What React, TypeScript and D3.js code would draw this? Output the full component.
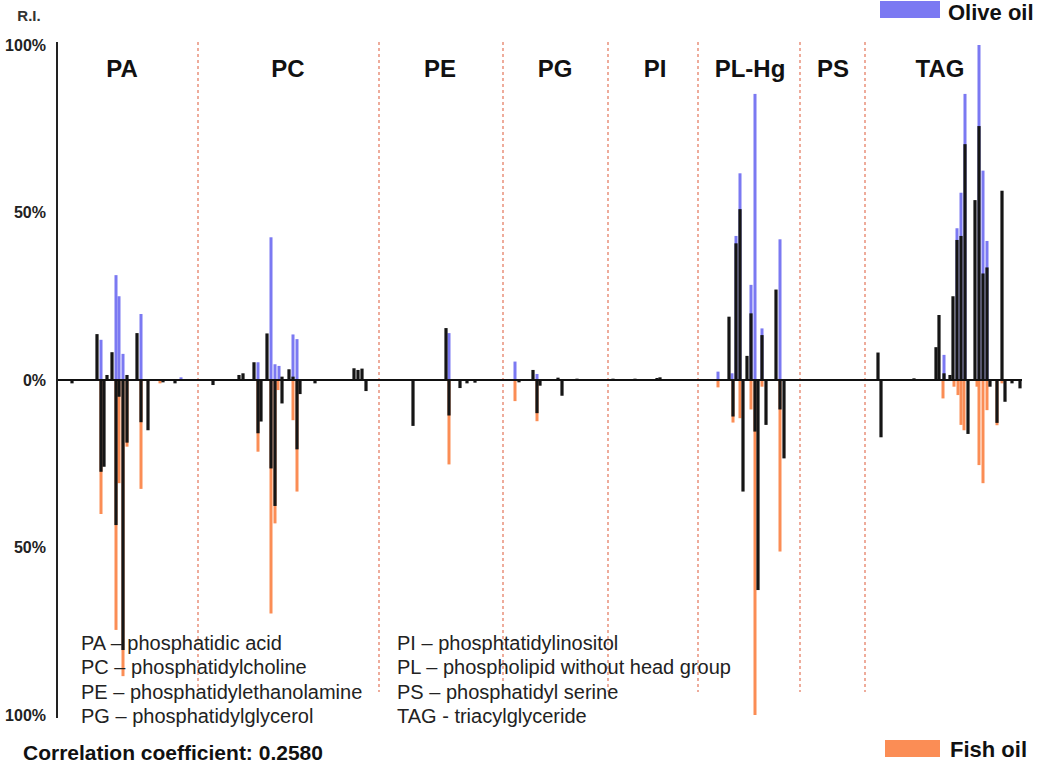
import React from "react";
import * as d3 from "d3";

const W = 1050;
const H = 763;

// Lipid classes (labels along the top) and their centre positions on the m/z index axis
const categories = ["PA", "PC", "PE", "PG", "PI", "PL-Hg", "PS", "TAG"];
const categoryCenters = [65, 231, 383, 498, 598, 693, 776, 883];
// class boundaries (dashed separators) on the same index axis
const boundaries = [141, 322, 446, 551, 641, 743, 808];

const yTicks = [100, 50, 0, -50, -100];

// [position, relative intensity %] — olive oil reference spectrum (up, blue)
const oliveOil: [number, number][] = [
  [44, 12], [59, 31.3], [62, 25], [66, 7.8], [84, 19.7], [124, 0.8],
  [201, 5.3], [214, 42.6], [218, 4.7], [222, 4.2], [236, 13.6], [240, 12.2],
  [392, 14],
  [458, 5.5], [480, 1.8],
  [661, 2.5], [675, 2], [679, 43], [683, 61.7], [694, 28.4], [698, 85.4], [705, 15.4], [723, 42],
  [887, 7.5], [900, 45.3], [904, 55.9], [908, 85.4], [922, 100], [926, 62.5], [930, 41.5],
];

// sample spectrum matched against olive oil (up, black)
const sampleUp: [number, number][] = [
  [40, 13.7], [50, 1.5], [55, 8.3], [70, 1.5], [80, 14],
  [182, 1.5], [186, 2], [197, 5.3], [210, 13.9], [225, 1], [232, 3.2], [236, 1],
  [297, 3.5], [301, 3], [305, 3.4],
  [389, 15.5],
  [476, 3], [501, 0.7], [520, 0.4],
  [556, 0.4], [578, 0.4], [600, 0.6], [603, 0.8],
  [672, 18.9], [679, 40.8], [683, 51], [690, 7.2], [694, 19.9], [705, 13.4], [719, 27],
  [821, 8.2], [857, 0.5],
  [879, 9.8], [882, 19.4], [887, 2], [893, 1.5], [896, 25], [900, 41.8], [904, 43], [908, 70.4],
  [918, 53.7], [922, 75.8], [926, 31.8], [930, 33.6], [945, 56.5],
];

// [position, relative intensity %] — fish oil reference spectrum (down, orange)
const fishOil: [number, number][] = [
  [44, 40], [59, 74.6], [62, 30.8], [66, 88.4], [70, 19.9], [84, 32.5], [103, 1],
  [201, 21.4], [214, 69.7], [218, 42.8], [221, 3], [236, 12], [240, 33.3],
  [392, 25.2],
  [458, 6.3], [480, 12.3],
  [661, 2.2], [676, 12.7], [683, 11.4], [694, 8.8], [698, 100], [705, 2], [723, 51.2],
  [886, 5.5], [897, 2], [901, 4.5], [904, 13.4], [907, 15], [920, 2], [922, 25.4], [926, 30.8],
  [930, 9], [940, 13.5], [945, 1],
];

// sample spectrum matched against fish oil (down, black)
const sampleDown: [number, number][] = [
  [15, 1], [44, 27.4], [47, 25.9], [59, 43.3], [62, 5], [66, 80.6], [70, 18.7], [84, 12.6],
  [91, 15], [106, 0.7], [118, 1],
  [156, 1.5], [201, 15.9], [204, 12.4], [214, 26.4], [218, 37.6], [225, 7], [240, 20.7],
  [243, 4.2], [258, 1], [309, 3.3],
  [356, 13.7], [392, 10.6], [403, 2.4], [410, 1], [418, 0.8],
  [462, 0.7], [480, 9.9], [483, 1.7], [505, 4.7],
  [676, 10.9], [686, 33.3], [698, 15.4], [701, 62.7], [709, 13.4], [723, 8.8], [727, 23.4],
  [824, 17.1], [911, 16.1], [933, 2], [940, 12.8], [948, 6.5], [955, 1], [963, 2.5],
];

const legendLeft = [
  "PA \u2013 phosphatidic acid",
  "PC \u2013 phosphatidylcholine",
  "PE \u2013 phosphatidylethanolamine",
  "PG \u2013 phosphatidylglycerol",
];
const legendRight = [
  "PI \u2013 phosphtatidylinositol",
  "PL \u2013 phospholipid without head group",
  "PS \u2013 phosphatidyl serine",
  "TAG - triacylglyceride",
];

const BLUE = "#7b79f2";
const ORANGE = "#fb8d55";
const BLACK = "#151515";
const FONT = "Arial, 'Liberation Sans', Helvetica, sans-serif";

export default function App() {
  const x = d3.scaleLinear().domain([0, 965]).range([57, 1022]);
  const y = d3.scaleLinear().domain([-100, 100]).range([715, 45]);
  const y0 = y(0);

  const up = (data: [number, number][], color: string, w: number, key: string) =>
    data.map(([p, v], i) => (
      <rect key={key + i} x={x(p) - w / 2} y={y(v)} width={w} height={y0 - y(v)} fill={color} />
    ));
  const down = (data: [number, number][], color: string, w: number, key: string) =>
    data.map(([p, v], i) => (
      <rect key={key + i} x={x(p) - w / 2} y={y0} width={w} height={y(-v) - y0} fill={color} />
    ));

  return (
    <svg width={W} height={H} style={{ position: "absolute", left: 0, top: 0, background: "#fff" }}>
      <rect width={W} height={H} fill="#fff" />
      {/* class separators */}
      {boundaries.map((b, i) => (
        <line key={"b" + i} x1={x(b)} x2={x(b)} y1={42} y2={692} stroke="#e0684a" strokeWidth={1.1} strokeDasharray="3,3" />
      ))}
      {/* class labels */}
      {categories.map((c, i) => (
        <text key={"c" + i} x={x(categoryCenters[i])} y={77} textAnchor="middle" fontFamily={FONT} fontWeight="bold" fontSize={24} fill="#111">
          {c}
        </text>
      ))}
      {/* bars */}
      {up(oliveOil, BLUE, 3, "o")}
      {down(fishOil, ORANGE, 3, "f")}
      {up(sampleUp, BLACK, 3.2, "su")}
      {down(sampleDown, BLACK, 3.2, "sd")}
      {/* zero line */}
      <line x1={x(0)} x2={x(965)} y1={y0} y2={y0} stroke="#111" strokeWidth={2} />
      {/* y axis */}
      <line x1={57} x2={57} y1={42} y2={718} stroke="#222" strokeWidth={2} />
      {yTicks.map((t, i) => (
        <text key={"t" + i} x={46} y={y(t)} dy="0.35em" textAnchor="end" fontFamily={FONT} fontWeight="bold" fontSize={16} fill="#222">
          {Math.abs(t) + "%"}
        </text>
      ))}
      <text x={29} y={21} textAnchor="middle" fontFamily={FONT} fontWeight="bold" fontSize={15} fill="#333">R.I.</text>
      {/* abbreviation legend */}
      {legendLeft.map((s, i) => (
        <text key={"ll" + i} x={81} y={650 + i * 24.3} fontFamily={FONT} fontSize={20} fill="#222">{s}</text>
      ))}
      {legendRight.map((s, i) => (
        <text key={"lr" + i} x={397} y={650 + i * 24.3} fontFamily={FONT} fontSize={20} fill="#222">{s}</text>
      ))}
      <text x={23} y={760} fontFamily={FONT} fontWeight="bold" fontSize={21} fill="#111">Correlation coefficient: 0.2580</text>
      {/* series legend */}
      <rect x={880} y={1} width={60} height={17} fill={BLUE} />
      <text x={948} y={20} fontFamily={FONT} fontWeight="bold" fontSize={22} fill="#111">Olive oil</text>
      <rect x={885} y={740} width={55} height={17} fill={ORANGE} />
      <text x={950} y={757} fontFamily={FONT} fontWeight="bold" fontSize={22} fill="#111">Fish oil</text>
    </svg>
  );
}
